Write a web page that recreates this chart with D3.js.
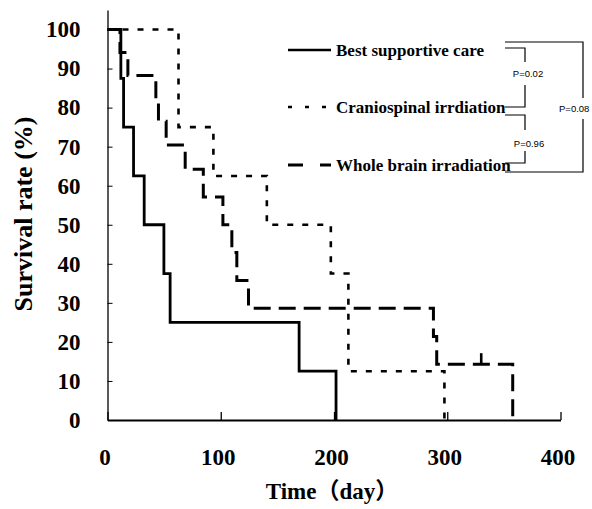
<!DOCTYPE html>
<html><head><meta charset="utf-8">
<script src="https://cdn.jsdelivr.net/npm/d3@7"></script>
<style>
html,body{margin:0;padding:0;background:#fff;}
svg{display:block;}
.ax text{font-family:"Liberation Serif","Times New Roman",serif;font-weight:bold;font-size:23px;fill:#000;}
</style></head>
<body>
<svg id="chart" width="592" height="509"></svg>
<script>
// ---- data ----
const seriesNames = ["Best supportive care", "Craniospinal irrdiation", "Whole brain irradiation"];
const bestTimes = [0, 11.8, 14.2, 23, 32.4, 49.8, 55.3, 169.2, 201.8];
const bestSurv  = [100, 87.5, 75, 62.5, 50, 37.5, 25, 12.5, 0];
const csiTimes  = [0, 62.7, 93.5, 140.7, 197.2, 212.7, 297.5];
const csiSurv   = [100, 75, 62.5, 50, 37.5, 12.5, 0];
const wbiTimes  = [0, 11, 18, 42.7, 45, 51.8, 68.6, 84.6, 101.9, 109.8, 114.2, 124.5, 287.8, 290.7, 357.8];
const wbiSurv   = [100, 94.1, 88.2, 82.4, 76.5, 70.4, 64.2, 57.1, 50, 42.9, 35.7, 28.6, 21.4, 14.3, 0];
const wbiCensorTimes = [330];
const wbiCensorSurv  = [14.3];
const xTicks = [0, 100, 200, 300, 400];
const yTicks = [0, 10, 20, 30, 40, 50, 60, 70, 80, 90, 100];
const pLabels = ["P=0.02", "P=0.96", "P=0.08"];

const svg = d3.select("#chart");
const x = d3.scaleLinear().domain([0, 400]).range([107.5, 560.5]);
const y = d3.scaleLinear().domain([0, 105]).range([420, 10]);

// axes
const yAxis = svg.append("g").attr("class", "ax").attr("transform", `translate(${x(0)},0)`)
  .call(d3.axisLeft(y).tickValues(yTicks).tickSize(-5).tickSizeOuter(0).tickPadding(27).tickFormat(d3.format("d")));
yAxis.select(".domain").attr("stroke-width", 1.3);
yAxis.selectAll(".tick line").attr("stroke-width", 1);

const xAxis = svg.append("g").attr("class", "ax").attr("transform", `translate(0,${y(0)})`)
  .call(d3.axisBottom(x).tickValues(xTicks).tickSize(-8).tickSizeOuter(0).tickPadding(29).tickFormat(d3.format("d")));
xAxis.select(".domain").attr("stroke-width", 1.8);
xAxis.selectAll(".tick line").attr("stroke-width", 1.3);
xAxis.selectAll(".tick text").attr("dx", -3);

// step lines
const line = d3.line().x(d => x(d[0])).y(d => y(d[1])).curve(d3.curveStepAfter);
const toPts = (t, s) => t.map((v, i) => [v, s[i]]);

svg.append("path").datum(toPts(csiTimes, csiSurv)).attr("d", line)
  .attr("fill", "none").attr("stroke", "#000").attr("stroke-width", 2.6)
  .attr("stroke-dasharray", "6,9");
svg.append("path").datum(toPts(wbiTimes, wbiSurv)).attr("d", line)
  .attr("fill", "none").attr("stroke", "#000").attr("stroke-width", 3)
  .attr("stroke-dasharray", "17,8");
svg.append("path").datum(toPts(bestTimes, bestSurv)).attr("d", line)
  .attr("fill", "none").attr("stroke", "#000").attr("stroke-width", 2.8);

// censor tick
svg.selectAll("line.cens").data(toPts(wbiCensorTimes, wbiCensorSurv)).enter().append("line")
  .attr("class", "cens")
  .attr("x1", d => x(d[0])).attr("x2", d => x(d[0]))
  .attr("y1", d => y(d[1])).attr("y2", d => y(d[1]) - 11)
  .attr("stroke", "#000").attr("stroke-width", 2.6);

// axis titles
svg.append("text").attr("transform", "translate(32,214) rotate(-90)")
  .attr("text-anchor", "middle")
  .style("font-family", '"Liberation Serif","Times New Roman",serif').style("font-weight", "bold").style("font-size", "26px")
  .text("Survival rate (%)");
svg.append("text").attr("x", 332).attr("y", 499)
  .attr("text-anchor", "middle")
  .style("font-family", '"Liberation Serif","Times New Roman","Noto Sans CJK JP",serif').style("font-weight", "bold").style("font-size", "23px")
  .text("Time（day）");

// legend
const legY = [50, 107, 165];
const legDash = [null, "4,13", "15,17"];
const legW = [2.6, 2.6, 2.8];
seriesNames.forEach((n, i) => {
  svg.append("line").attr("x1", 288).attr("x2", 331).attr("y1", legY[i]).attr("y2", legY[i])
    .attr("stroke", "#000").attr("stroke-width", legW[i]).attr("stroke-dasharray", legDash[i]);
  svg.append("text").attr("x", 336).attr("y", legY[i] + 5.5)
    .style("font-family", '"Liberation Serif","Times New Roman",serif').style("font-weight", "bold").style("font-size", "17px")
    .text(n);
});

// p-value brackets
const br = svg.append("g").attr("fill", "none").attr("stroke", "#000").attr("stroke-width", 1.2);
br.append("path").attr("d", "M505,48 H525 V62 M525,85 V107 H505");
br.append("path").attr("d", "M505,115 H525 V130 M525,151 V163 H505");
br.append("path").attr("d", "M505,42 H583 V98 M583,119 V172 H505");
const pt = svg.append("g").style("font-family", '"Liberation Sans",Arial,sans-serif').style("font-size", "9.5px");
pt.append("text").attr("x", 528).attr("y", 77).attr("text-anchor", "middle").text(pLabels[0]);
pt.append("text").attr("x", 529).attr("y", 147).attr("text-anchor", "middle").text(pLabels[1]);
pt.append("text").attr("x", 559).attr("y", 112).attr("text-anchor", "start").text(pLabels[2]);
</script>
</body></html>
